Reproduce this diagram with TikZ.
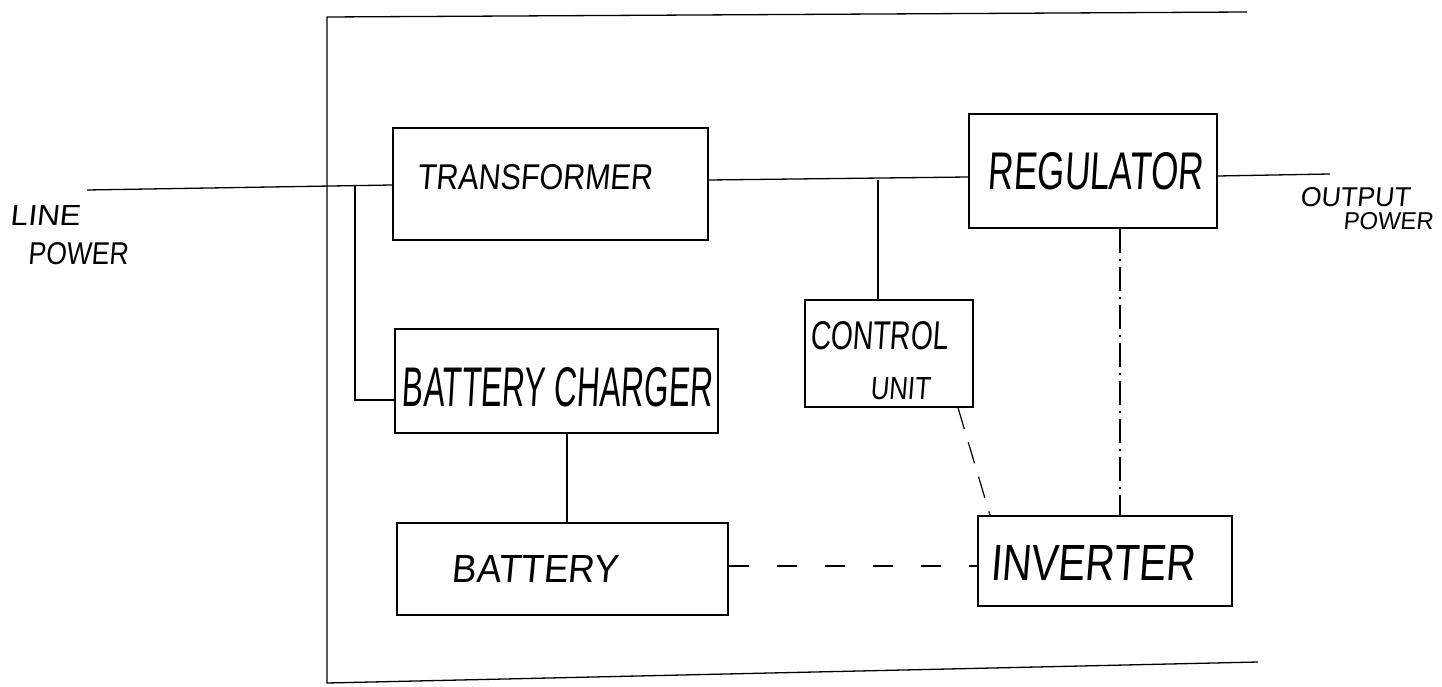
\documentclass[tikz,border=0pt]{standalone}
\usepackage{fontspec}
\newfontfamily\hand[FakeSlant=0.1]{Liberation Sans}
\newcommand\hw[3]{\resizebox{#1pt}{#2pt}{\hand #3}}
\begin{document}
\begin{tikzpicture}[x=1pt,y=-1pt,
  blk/.style={draw,line width=1.6pt,minimum width=#1,inner sep=0pt},
  lbl/.style={inner sep=0pt,anchor=center},
  wire/.style={line width=1.3pt},
  dwire/.style={line width=1.3pt,dash pattern=on 20pt off 28pt},
  cwire/.style={line width=1.2pt,dash pattern=on 22pt off 14pt},
  dcwire/.style={line width=1.2pt,dash pattern=on 24pt off 6pt on 2pt off 6pt}]
\useasboundingbox (0,0) rectangle (1442,687);
% frame (open on the right)
\coordinate (ftr) at (1247,12);
\coordinate (ftl) at (327,17);
\coordinate (fbl) at (327,683);
\coordinate (fbr) at (1258,662);
\draw[line width=1.3pt] (ftr) -- (ftl) -- (fbl) -- (fbr);
% boxes
\node[blk=315pt,minimum height=112pt] (trans) at (550.5,184) {};
\node[blk=248pt,minimum height=114pt] (reg) at (1093,171) {};
\node[blk=168pt,minimum height=107pt] (ctrl) at (889,353.5) {};
\node[blk=323pt,minimum height=104pt] (chg) at (556.5,381) {};
\node[blk=331pt,minimum height=92pt] (bat) at (562.5,569) {};
\node[blk=254pt,minimum height=90pt] (inv) at (1105,561) {};
% texts
\node[lbl] (tTrans) at (534.5,177.5) {\hw{235}{25}{TRANSFORMER}};
\node[lbl] (tReg) at (1095.5,171.5) {\hw{215}{37}{REGULATOR}};
\node[lbl] (tChg) at (557,387.5) {\hw{310}{39}{BATTERY CHARGER}};
\node[lbl] (tBat) at (535,568.5) {\hw{166}{27}{BATTERY}};
\node[lbl] (tInv) at (1092.5,562.5) {\hw{205}{35}{INVERTER}};
\node[lbl] (tCtl1) at (879,336) {\hw{138}{28}{CONTROL}};
\node[lbl] (tCtl2) at (900,389) {\hw{60}{22}{UNIT}};
\node[lbl] (tLine) at (45,215) {\hw{70}{20}{LINE}};
\node[lbl] (tPow) at (78,254) {\hw{100}{22}{POWER}};
\node[lbl] (tOut) at (1355,197.5) {\hw{110}{19}{OUTPUT}};
\node[lbl] (tOutP) at (1388,221.5) {\hw{90}{17}{POWER}};
% connectors
\coordinate (lp) at (87,190);
\coordinate (j1) at (355,185.5);
\coordinate (cf) at (395,400);
\coordinate (cb) at (878,180);
\coordinate (out) at (1330,174);
\draw[wire] (lp) -- (trans.west |- 0,185);
\draw[wire] (j1) |- (cf);
\draw[wire] (trans.east |- 0,180) -- (reg.west |- 0,177);
\draw[wire] (cb) -- (cb |- ctrl.north);
\draw[wire] (reg.east |- 0,176) -- (out);
\draw[wire] (chg.south -| 567,0) -- (bat.north -| 567,0);
\draw[dwire] (bat.east |- 0,566) -- (inv.west |- 0,566);
\draw[cwire] (ctrl.south -| 958,0) -- (inv.north -| 990,0);
\draw[dcwire] (reg.south -| 1120,0) -- (inv.north -| 1120,0);
\end{tikzpicture}
\end{document}
